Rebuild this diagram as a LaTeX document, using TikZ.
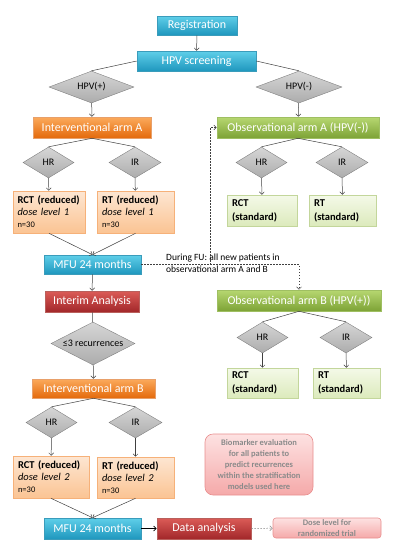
\documentclass[tikz,border=0pt]{standalone}
\usepackage{fontspec}
\setmainfont{Carlito}
\usetikzlibrary{shapes.geometric,arrows.meta}

\definecolor{blueTop}{HTML}{5FCFE9}
\definecolor{blueBot}{HTML}{1F97BE}
\definecolor{blueLine}{HTML}{3A9CBB}
\definecolor{orangeTop}{HTML}{FBAA5C}
\definecolor{orangeBot}{HTML}{E46A0C}
\definecolor{orangeLine}{HTML}{E8A06A}
\definecolor{greenTop}{HTML}{B7D771}
\definecolor{greenBot}{HTML}{7DA336}
\definecolor{greenLine}{HTML}{9FBF62}
\definecolor{redTop}{HTML}{DB5C57}
\definecolor{redBot}{HTML}{A2272A}
\definecolor{redLine}{HTML}{B9605C}
\definecolor{peachTop}{HTML}{FDE6D2}
\definecolor{peachBot}{HTML}{FBC493}
\definecolor{peachLine}{HTML}{F6B179}
\definecolor{mintTop}{HTML}{F4F9E8}
\definecolor{mintBot}{HTML}{DCEABC}
\definecolor{mintLine}{HTML}{C3D69B}
\definecolor{pinkTop}{HTML}{FDE2E2}
\definecolor{pinkBot}{HTML}{F5A9A9}
\definecolor{pinkLine}{HTML}{E88E8E}
\definecolor{pinkText}{HTML}{8A8A8A}
\definecolor{greyTop}{HTML}{D6D6D6}
\definecolor{greyBot}{HTML}{ACACAC}
\definecolor{greyLine}{HTML}{808080}
\definecolor{linkGrey}{HTML}{404040}

\tikzset{
  phase/.style={draw=#1Line, top color=#1Top, bottom color=#1Bot, text=white,
    font=\fontsize{12}{14}\selectfont, inner sep=0pt, line width=0.6pt},
  decision/.style={diamond, draw=greyLine, top color=greyTop, bottom color=greyBot,
    font=\fontsize{10}{12}\selectfont, inner sep=0pt, aspect=2.5, line width=0.4pt},
  therapy/.style={draw=#1Line, top color=#1Top, bottom color=#1Bot, align=left,
    inner xsep=5pt, inner ysep=0pt, line width=0.6pt},
  note/.style={draw=pinkLine, top color=pinkTop, bottom color=pinkBot, text=pinkText,
    align=center, inner sep=0pt, line width=0.6pt},
  link/.style={draw=linkGrey, line width=0.5pt},
  flow/.style={link, -{Straight Barb[length=2.5pt,width=5pt]}},
  fuline/.style={draw=linkGrey, line width=0.5pt, dash pattern=on 1.5pt off 1.5pt}
}

\newcommand{\reduced}[3]{\mbox{\textbf{#1}}\\\textit{dose level #2}\\{\fontsize{8.5}{12}\selectfont #3}}
\newcommand{\standard}[1]{\textbf{#1}\\\textbf{(standard)}}

\begin{document}
\begin{tikzpicture}[x=1pt, y=-1pt]
    \useasboundingbox (0,0) rectangle (400,550);

    % Registration and screening
    \node[phase=blue, minimum width=80pt, minimum height=19pt] (reg) at (197,25.5) {Registration};
    \node[phase=blue, minimum width=119pt, minimum height=20pt] (screen) at (196.5,61) {HPV screening};
    \node[decision, minimum width=85pt, minimum height=32pt] (hpvPos) at (91.5,87) {HPV(+)};
    \node[decision, minimum width=86pt, minimum height=32pt] (hpvNeg) at (299,87) {HPV(-)};

    % Interventional arm A
    \node[phase=orange, minimum width=118pt, minimum height=21pt] (armA) at (92,127.5) {Interventional arm A};
    \node[decision, minimum width=51pt, minimum height=31pt] (hrA) at (48.5,162.5) {HR};
    \node[decision, minimum width=52pt, minimum height=31pt] (irA) at (135,162.5) {IR};
    \node[therapy=peach, text width=63pt, inner xsep=4.5pt, minimum height=42pt,
          font=\fontsize{10.5}{12}\selectfont] (rctA) at (49,212) {\reduced{RCT (reduced)}{1}{n=30}};
    \node[therapy=peach, text width=67pt, minimum height=42pt,
          font=\fontsize{10.5}{12}\selectfont] (rtA) at (135.5,212) {\reduced{RT (reduced)}{1}{n=30}};
    \node[phase=blue, minimum width=97pt, minimum height=19pt] (mfuA) at (92.5,264.5) {MFU 24 months};

    % Interim analysis
    \node[phase=red, minimum width=94pt, minimum height=21pt] (interim) at (92,301.5) {Interim Analysis};
    \node[decision, minimum width=84pt, minimum height=43pt] (recur) at (93,343.5) {≤3 recurrences};

    % Interventional arm B
    \node[phase=orange, minimum width=123pt, minimum height=19pt] (armB) at (93.5,388.5) {Interventional arm B};
    \node[decision, minimum width=51pt, minimum height=31pt] (hrB) at (51.5,422.5) {HR};
    \node[decision, minimum width=53pt, minimum height=31pt] (irB) at (135.5,422.5) {IR};
    \node[therapy=peach, text width=66pt, minimum height=42pt,
          font=\fontsize{10.5}{12}\selectfont] (rctB) at (51,477) {\reduced{RCT (reduced)}{2}{n=30}};
    \node[therapy=peach, text width=67pt, minimum height=41pt,
          font=\fontsize{10.5}{12}\selectfont] (rtB) at (135.5,477.5) {\reduced{RT (reduced)}{2}{n=30}};
    \node[phase=blue, minimum width=97pt, minimum height=21pt] (mfuB) at (92.5,528.5) {MFU 24 months};
    \node[phase=red, minimum width=94pt, minimum height=21pt] (data) at (204,528.5) {Data analysis};

    % Observational arm A
    \node[phase=green, minimum width=162pt, minimum height=21pt] (obsA) at (298,127.5) {Observational arm A (HPV(-))};
    \node[decision, minimum width=51pt, minimum height=31pt] (hrObsA) at (261.5,162.5) {HR};
    \node[decision, minimum width=52pt, minimum height=31pt] (irObsA) at (342,162.5) {IR};
    \node[therapy=mint, text width=60pt, minimum height=31pt,
          font=\fontsize{10.5}{14}\selectfont] (rctObsA) at (262,210.5) {\standard{RCT}};
    \node[therapy=mint, text width=57pt, minimum height=31pt,
          font=\fontsize{10.5}{14}\selectfont] (rtObsA) at (342.5,210.5) {\standard{RT}};

    % Observational arm B
    \node[phase=green, minimum width=164pt, minimum height=21pt] (obsB) at (299,300.5) {Observational arm B (HPV(+))};
    \node[decision, minimum width=51pt, minimum height=31pt] (hrObsB) at (262.5,337.5) {HR};
    \node[decision, minimum width=52pt, minimum height=31pt] (irObsB) at (346,337.5) {IR};
    \node[therapy=mint, text width=61pt, minimum height=30pt,
          font=\fontsize{10.5}{14}\selectfont] (rctObsB) at (262.5,383) {\standard{RCT}};
    \node[therapy=mint, text width=57pt, minimum height=30pt,
          font=\fontsize{10.5}{14}\selectfont] (rtObsB) at (346.5,383) {\standard{RT}};

    % Notes
    \node[note, rounded corners=8pt, minimum width=108pt, minimum height=61pt,
          font=\bfseries\fontsize{8.5}{11}\selectfont] (bio) at (259,464.5)
          {Biomarker evaluation\\for all patients to\\predict recurrences\\within the stratification\\models used here};
    \node[note, rounded corners=3pt, minimum width=108pt, minimum height=20pt,
          font=\bfseries\fontsize{8.5}{11}\selectfont] (dose) at (327,528) {Dose level for\\randomized trial};

    % Connectors, left column
    \draw[flow] (reg) -- (screen);
    \draw[link] (screen.west) -- (hpvPos.north);
    \draw[link] (screen.east) -- (hpvNeg.north);
    \draw[flow] (hpvPos) -- (armA);
    \draw[flow] (hpvNeg) -- (obsA);
    \draw[link] (armA.south) -- (hrA.north);
    \draw[link] (armA.south) -- (irA.north);
    \draw[flow] (hrA) -- (rctA);
    \draw[flow] (irA) -- (rtA);
    \draw[flow] (rctA.south) -- (mfuA.north);
    \draw[flow] (rtA.south) -- (mfuA.north);
    \draw[flow] (mfuA) -- (interim);
    \draw[link] (interim) -- (recur);
    \draw[flow] (recur) -- (armB);
    \draw[link] (armB.south) -- (hrB.north);
    \draw[link] (armB.south) -- (irB.north);
    \draw[flow] (hrB) -- (rctB);
    \draw[flow] (irB) -- (rtB);
    \draw[flow] (rctB.south) -- (mfuB.north);
    \draw[flow] (rtB.south) -- (mfuB.north);
    \draw[flow, draw=black, line width=0.7pt] (mfuB) -- (data);
    \draw[fuline, draw=greyLine, -{Straight Barb[length=2.5pt,width=5pt]}] (data) -- (dose);

    % Connectors, right column
    \draw[link] (obsA.south) -- (hrObsA.north);
    \draw[link] (obsA.south) -- (irObsA.north);
    \draw[flow] (hrObsA) -- (rctObsA);
    \draw[flow] (irObsA) -- (rtObsA);
    \draw[link] (obsB.south) -- (hrObsB.north);
    \draw[link] (obsB.south) -- (irObsB.north);
    \draw[flow] (hrObsB) -- (rctObsB);
    \draw[flow] (irObsB) -- (rtObsB);

    % Follow-up feedback
    \coordinate (fuCorner) at (obsB.north |- mfuA.east);
    \coordinate (fuJoin) at (210,264.5);
    \draw[fuline, -{Straight Barb[length=2.5pt,width=5pt]}] (mfuA.east) -- (fuCorner) -- (obsB.north);
    \draw[fuline, -{Straight Barb[length=2.5pt,width=5pt]}] (fuJoin) |- (obsA.west);
    \node[anchor=north west, align=left, inner sep=0pt,
          font=\fontsize{9.5}{12}\selectfont] (fuText) at (166,254) {During FU: all new patients in\\observational arm A and B};

\end{tikzpicture}
\end{document}
